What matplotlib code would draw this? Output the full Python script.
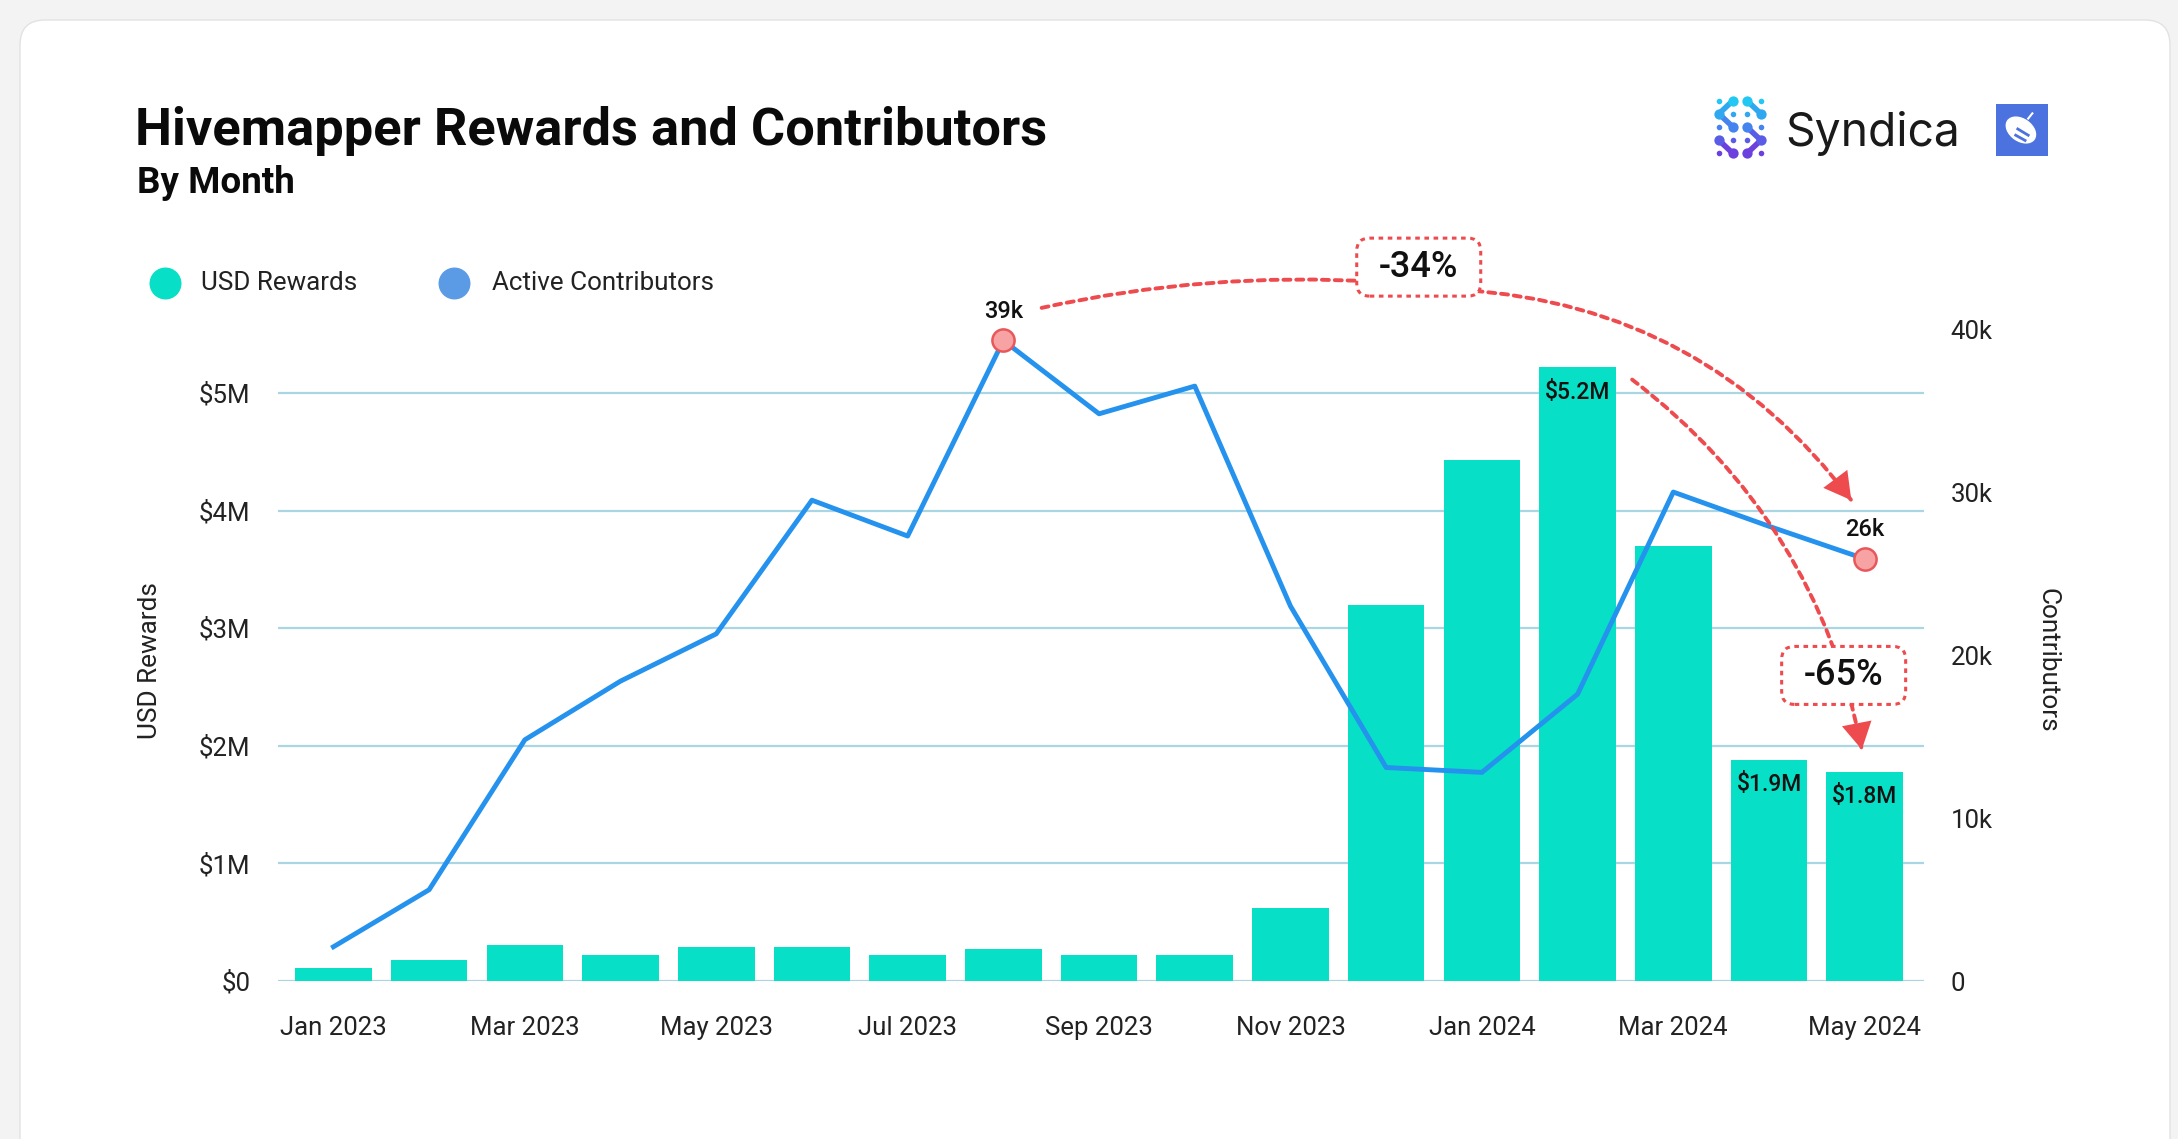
import numpy as np
import matplotlib
matplotlib.use('Agg')
import matplotlib.pyplot as plt
from matplotlib.patches import FancyBboxPatch, FancyArrowPatch, Ellipse
from matplotlib.lines import Line2D
from matplotlib.ticker import FuncFormatter
from matplotlib.transforms import ScaledTranslation

plt.rcParams['font.family'] = ['Roboto', 'DejaVu Sans']

# data
months = ['Jan 2023', 'Feb 2023', 'Mar 2023', 'Apr 2023', 'May 2023', 'Jun 2023',
          'Jul 2023', 'Aug 2023', 'Sep 2023', 'Oct 2023', 'Nov 2023', 'Dec 2023',
          'Jan 2024', 'Feb 2024', 'Mar 2024', 'Apr 2024', 'May 2024']
rewards_musd = [0.11, 0.18, 0.31, 0.22, 0.29, 0.29, 0.22, 0.27, 0.22, 0.22, 0.62,
                3.20, 4.43, 5.22, 3.70, 1.88, 1.78]
contributors_k = [2.1, 5.6, 14.8, 18.4, 21.3, 29.5, 27.3, 39.3, 34.8, 36.5, 23.0,
                  13.1, 12.8, 17.6, 30.0, 27.9, 25.9]
bar_label_months = ['Feb 2024', 'Apr 2024', 'May 2024']
change_labels = ['-34%', '-65%']

TEAL = '#07DFC6'
BLUE = '#2592EE'
RED = '#EE4B4F'
GRID = '#A9D6E2'

fig = plt.figure(figsize=(21.78, 11.39), dpi=100)
fig.patch.set_facecolor('#F3F3F3')

# white card
card = FancyBboxPatch((0.2, -0.5), 21.5, 11.69, boxstyle='round,pad=0,rounding_size=0.25',
                      transform=fig.dpi_scale_trans, facecolor='white', edgecolor='#E2E2E2',
                      lw=1, zorder=-10)
fig.add_artist(card)

fig.text(0.062, 0.873, 'Hivemapper Rewards and Contributors', fontsize=37.7, fontweight='bold',
         va='baseline', color='#0A0A0A')
fig.text(0.063, 0.8305, 'By Month', fontsize=26.5, fontweight='bold', va='baseline', color='#0A0A0A')

# legend
for mx, tx, col, lab in [(0.0758, 0.0923, TEAL, 'USD Rewards'),
                         (0.2084, 0.2259, '#5B9BE6', 'Active Contributors')]:
    fig.add_artist(Line2D([mx], [0.7515], marker='o', markersize=22, color=col, lw=0,
                          transform=fig.transFigure))
    fig.text(tx, 0.7515, lab, fontsize=18.7, va='center', color='#222222')

x = np.arange(len(months))
rewards = np.array(rewards_musd) * 1e6
contrib = np.array(contributors_k) * 1000

ax = fig.add_axes([0.1276, 0.1387, 0.7558, 0.5724])
ax.patch.set_alpha(0)
ax.bar(x, rewards, width=0.8, color=TEAL, zorder=2)
ax.set_xlim(-0.58, 16.62)
ax.set_ylim(0, 5.544e6)
ax.set_yticks(np.arange(0, 6e6, 1e6))
ax.yaxis.set_major_formatter(FuncFormatter(lambda v, p: '$0' if v == 0 else '${:.0f}M'.format(v / 1e6)))
ax.set_xticks(x[::2])
ax.set_xticklabels(months[::2])
ax.grid(axis='y', color=GRID, lw=1.6, zorder=0)
ax.set_axisbelow(True)
ax.tick_params(axis='both', length=0, labelsize=18.5, colors='#222222')
ax.tick_params(axis='y', pad=20)
ax.tick_params(axis='x', pad=25)
for s in ax.spines.values():
    s.set_visible(False)

for m in bar_label_months:
    i = months.index(m)
    ax.annotate('${:.1f}M'.format(rewards_musd[i]), (i, rewards[i]), xytext=(0, -18),
                textcoords='offset points', ha='center', va='center', fontsize=16.5,
                fontweight='medium', color='#111111')

ax2 = ax.twinx()
ax2.plot(x, contrib, color=BLUE, lw=3.5, zorder=3)
ax2.set_ylim(0, 40000)
ax2.set_yticks(np.arange(0, 40001, 10000))
ax2.yaxis.set_major_formatter(FuncFormatter(lambda v, p: '0' if v == 0 else '{:.0f}k'.format(v / 1000)))
ax2.tick_params(axis='y', length=0, labelsize=18.5, colors='#222222', pad=19)
for s in ax2.spines.values():
    s.set_visible(False)

ipk = int(np.argmax(contrib))
ilast = len(contrib) - 1
for i in [ipk, ilast]:
    ax2.plot(x[i], contrib[i], 'o', markersize=16, markerfacecolor='#F8A3A3',
             markeredgecolor='#E8575A', markeredgewidth=1.8, zorder=5, clip_on=False)
    ax2.annotate('{:.0f}k'.format(contributors_k[i]), (x[i], contrib[i]), xytext=(0, 21),
                 textcoords='offset points', ha='center', va='center', fontsize=17,
                 fontweight='medium', color='#111111')

fig.text(0.069, 0.4197, 'USD Rewards', rotation=90, fontsize=18.8, ha='center', va='center', color='#222222')
fig.text(0.940, 0.4206, 'Contributors', rotation=270, fontsize=18.8, ha='center', va='center', color='#222222')

# change annotations: dotted arcs, solid heads, dotted boxes
dash = (0, (1.8, 1.5))


def arc(p0, p1, rad, head=False):
    ax2.add_patch(FancyArrowPatch(p0, p1, connectionstyle='arc3,rad={}'.format(rad),
                                  arrowstyle='-', color=RED, lw=2.8, linestyle=dash,
                                  shrinkA=0, shrinkB=0, zorder=6, clip_on=False))
    if head:
        a = ax2.transData.transform(p0)
        b = ax2.transData.transform(p1)
        d = b - a
        ctrl = (a + b) / 2 + rad * np.array([d[1], -d[0]])
        t = (b - ctrl) / np.hypot(*(b - ctrl))
        ax2.annotate('', xy=p1, xytext=(-t[0] * 14, -t[1] * 14), textcoords='offset points',
                     arrowprops=dict(arrowstyle='-|>,head_length=0.8,head_width=0.45',
                                     color=RED, lw=0, mutation_scale=24,
                                     shrinkA=0, shrinkB=0), zorder=6)


arc((7.40, 41300), (10.9, 42900), -0.07)
arc((11.8, 42400), (15.86, 29500), -0.23, head=True)
arc((13.57, 36900), (15.97, 14200), -0.19, head=True)


def change_box(cx, cy, label):
    tr = fig.dpi_scale_trans + ScaledTranslation(cx, cy, ax2.transData)
    fig.add_artist(FancyBboxPatch((-0.62, -0.29), 1.24, 0.58,
                                  boxstyle='round,pad=0,rounding_size=0.13', transform=tr,
                                  facecolor='white', edgecolor=RED, lw=2.2,
                                  linestyle=(0, (1.5, 1.5)), zorder=7))
    fig.text(cx, cy, label, transform=ax2.transData, fontsize=26, fontweight='medium',
             ha='center', va='center', color='#111111', zorder=8)


change_box(11.34, 43800, change_labels[0])
change_box(15.78, 18750, change_labels[1])

# Syndica logo
lg = fig.add_axes([0.786, 0.8595, 0.0257, 0.058])
lg.set_xlim(-0.5, 3.5)
lg.set_ylim(4.5, -0.5)
lg.axis('off')
row_cols = ['#23C8F2', '#2FA8F0', '#4583EE', '#5A5CE6', '#6C40DE']
big = [(0, 1), (0, 2), (1, 0), (1, 3), (2, 1), (2, 2), (3, 0), (3, 3), (4, 1), (4, 2)]
links = [((0, 1), (1, 0)), ((0, 2), (1, 3)), ((1, 0), (2, 1)), ((2, 2), (3, 3)), ((3, 3), (4, 2)), ((3, 0), (4, 1))]
for (r0, c0), (r1, c1) in links:
    lg.plot([c0, c1], [r0, r1], color=row_cols[r1], lw=4, solid_capstyle='round')
for r in range(5):
    for c in range(4):
        s = 55 if (r, c) in big else 16
        lg.scatter([c], [r], s=s, color=row_cols[r], lw=0, zorder=3)
fig.text(0.8196, 0.872, 'Syndica', fontsize=33.3, va='baseline', color='#1A1A1A', family='Inter')

# Hivemapper badge
hb = fig.add_axes([0.9164, 0.863, 0.0239, 0.0457])
hb.set_xlim(0, 1)
hb.set_ylim(0, 1)
hb.set_facecolor('#4B72DF')
for s in hb.spines.values():
    s.set_visible(False)
hb.set_xticks([])
hb.set_yticks([])
hb.add_patch(Ellipse((0.48, 0.5), 0.62, 0.42, angle=-35, color='white'))
hb.plot([0.42, 0.62], [0.52, 0.40], color='#4B72DF', lw=2)
hb.plot([0.38, 0.56], [0.40, 0.30], color='#4B72DF', lw=2)
hb.plot([0.62, 0.7], [0.72, 0.82], color='white', lw=1.5)

fig.savefig('out.png', dpi=100, facecolor=fig.get_facecolor())
